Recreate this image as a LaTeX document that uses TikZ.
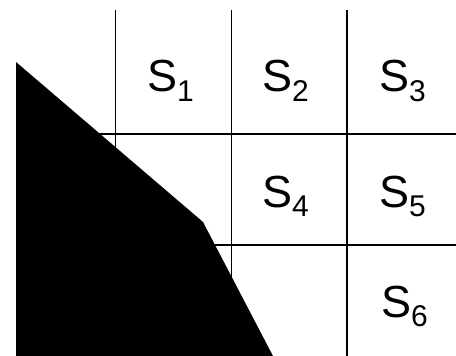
\documentclass[tikz,border=0pt]{standalone}
\usepackage{fontspec}
\setmainfont{Liberation Sans}
\newcommand{\Slab}[1]{S\raisebox{-0.22em}{\fontsize{30}{30}\selectfont #1}}
\begin{document}
\begin{tikzpicture}[x=1pt,y=-1pt,
  gridline/.style={line width=1.4pt,black},
  lab/.style={anchor=base west,inner sep=0pt,font=\fontsize{45}{50}\selectfont}]
\useasboundingbox (0,0) rectangle (456,356);
% grid
\draw[gridline] (115.5,10) -- (115.5,356);
\draw[gridline] (231.5,10) -- (231.5,356);
\draw[gridline] (347,10) -- (347,356);
\draw[gridline] (16,134) -- (456,134);
\draw[gridline] (16,245) -- (456,245);
% black region
\fill[black] (16,62) -- (203,222) -- (273,356) -- (16,356) -- cycle;
% labels
\node[lab] (s1) at (147,92) {\Slab{1}};
\node[lab] (s2) at (262,92) {\Slab{2}};
\node[lab] (s3) at (379,92) {\Slab{3}};
\node[lab] (s4) at (262,207) {\Slab{4}};
\node[lab] (s5) at (379,207) {\Slab{5}};
\node[lab] (s6) at (381,317) {\Slab{6}};
\end{tikzpicture}
\end{document}
